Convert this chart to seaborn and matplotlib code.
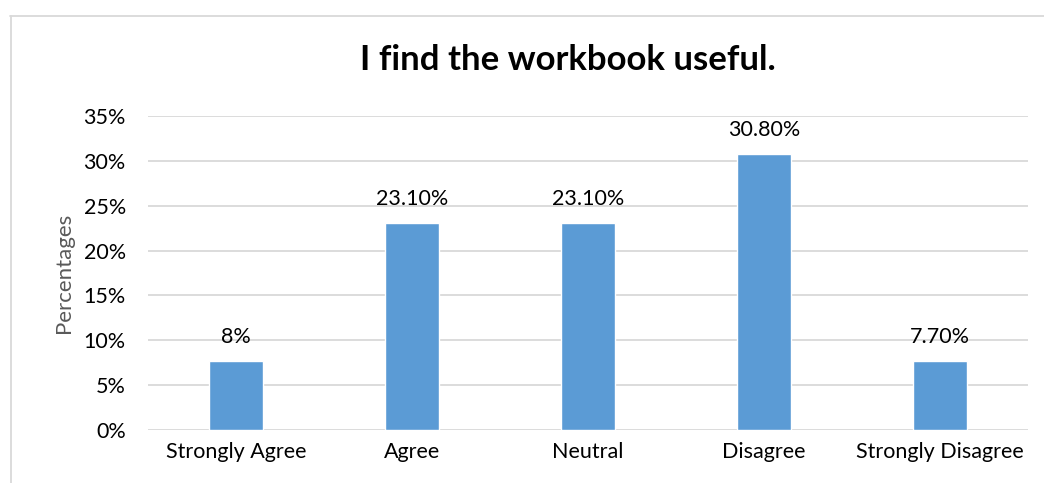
import matplotlib
matplotlib.use("Agg")
import matplotlib.pyplot as plt
import seaborn as sns
import pandas as pd
from matplotlib.lines import Line2D
from matplotlib.ticker import FuncFormatter

# Survey responses
categories = ["Strongly Agree", "Agree", "Neutral", "Disagree", "Strongly Disagree"]
percentages = [7.7, 23.1, 23.1, 30.8, 7.7]
bar_labels = ["8%", "23.10%", "23.10%", "30.80%", "7.70%"]

df = pd.DataFrame({"response": categories, "pct": percentages})

sns.set_theme(style="white")
plt.rcParams["font.family"] = ["Lato", "DejaVu Sans"]

fig = plt.figure(figsize=(10.44, 4.83), dpi=100)
ax = fig.add_axes([148 / 1044, 1 - 430 / 483, 880 / 1044, 314 / 483])

sns.barplot(data=df, x="response", y="pct", color="#5B9BD5", width=0.31,
            saturation=1, ax=ax, zorder=3)

for i, (v, lab) in enumerate(zip(percentages, bar_labels)):
    ax.text(i, v + 1.5, lab, ha="center", va="bottom", fontsize=15.5, color="#000000")

ax.set_ylim(0, 35)
ax.set_xlim(-0.5, 4.5)
ax.set_yticks(range(0, 36, 5))
ax.yaxis.set_major_formatter(FuncFormatter(lambda y, _: f"{int(y)}%"))
ax.grid(axis="y", color="#D9D9D9", linewidth=1.3, zorder=0)
for s in ax.spines.values():
    s.set_visible(False)
ax.tick_params(axis="both", length=0, labelsize=15.5, colors="#000000")
ax.tick_params(axis="y", pad=16)
ax.tick_params(axis="x", pad=9)
ax.set_xlabel("")
ax.set_ylabel("Percentages", fontsize=16, color="#595959", labelpad=7)

fig.text(568 / 1044, 1 - 60 / 483, "I find the workbook useful.", ha="center",
         va="center", fontsize=25, fontweight="bold", color="#000000")

# chart frame
fig.add_artist(Line2D([10 / 1044, 1], [1 - 16 / 483] * 2, transform=fig.transFigure,
                      color="#D9D9D9", linewidth=1.3))
fig.add_artist(Line2D([10.5 / 1044] * 2, [0, 1 - 16 / 483], transform=fig.transFigure,
                      color="#D9D9D9", linewidth=1.3))

fig.savefig("out.png", dpi=100)
